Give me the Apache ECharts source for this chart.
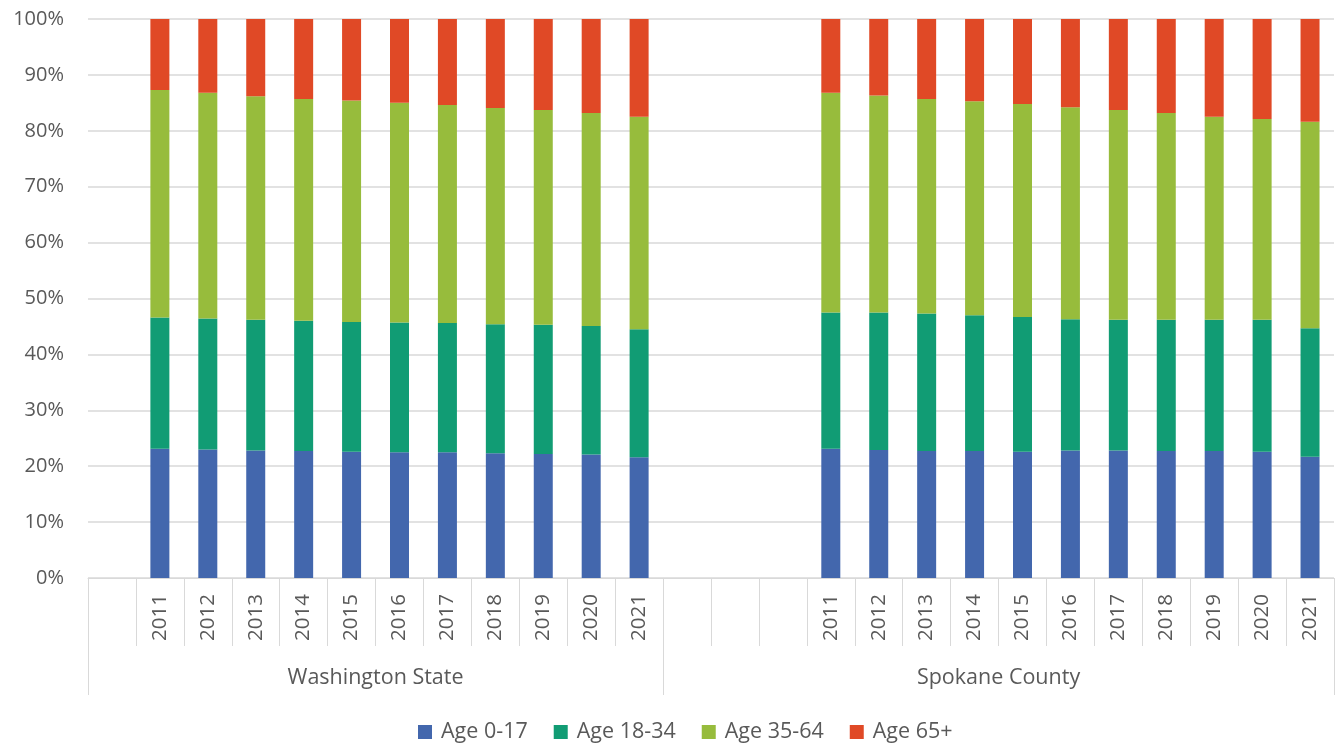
<!DOCTYPE html>
<html>
<head>
<meta charset="utf-8">
<script src="https://cdn.jsdelivr.net/npm/echarts@6/dist/echarts.min.js"></script>
<style>
html,body{margin:0;padding:0;background:#fff;}
#chart{width:1336px;height:743px;}
</style>
</head>
<body>
<div id="chart"></div>
<script>
// ---- data ----
var years = ['2011','2012','2013','2014','2015','2016','2017','2018','2019','2020','2021'];
var groups = ['Washington State', 'Spokane County'];
var seriesNames = ['Age 0-17', 'Age 18-34', 'Age 35-64', 'Age 65+'];
var yTicks = [0, 10, 20, 30, 40, 50, 60, 70, 80, 90, 100];

var waAge0_17  = [23.1, 23.0, 22.8, 22.7, 22.6, 22.5, 22.5, 22.3, 22.2, 22.1, 21.6];
var waAge18_34 = [23.5, 23.4, 23.4, 23.3, 23.2, 23.2, 23.1, 23.1, 23.1, 23.0, 22.9];
var waAge35_64 = [40.7, 40.4, 40.0, 39.7, 39.6, 39.3, 39.0, 38.7, 38.4, 38.1, 38.0];
var waAge65    = [12.7, 13.2, 13.8, 14.3, 14.6, 15.0, 15.4, 15.9, 16.3, 16.8, 17.5];

var spAge0_17  = [23.1, 22.9, 22.7, 22.7, 22.6, 22.8, 22.8, 22.7, 22.7, 22.6, 21.7];
var spAge18_34 = [24.4, 24.6, 24.6, 24.3, 24.1, 23.5, 23.4, 23.5, 23.5, 23.6, 23.0];
var spAge35_64 = [39.3, 38.8, 38.4, 38.3, 38.1, 37.9, 37.5, 37.0, 36.3, 35.9, 36.9];
var spAge65    = [13.2, 13.7, 14.3, 14.7, 15.2, 15.8, 16.3, 16.8, 17.5, 17.9, 18.4];

// blank slots before each group (as in the source worksheet)
var waLeadBlanks = 1;
var spLeadBlanks = 3;

// ---- build ----
function blanks(n){ var a=[]; for(var i=0;i<n;i++) a.push(''); return a; }
function nulls(n){ var a=[]; for(var i=0;i<n;i++) a.push('-'); return a; }

var categories = blanks(waLeadBlanks).concat(years, blanks(spLeadBlanks), years);
function combine(wa, sp){
  return nulls(waLeadBlanks).concat(wa, nulls(spLeadBlanks), sp);
}
var waSlots = waLeadBlanks + years.length;
var spSlots = spLeadBlanks + years.length;
var totalSlots = waSlots + spSlots;

var colors = ['#4367AD', '#119C74', '#97BC3C', '#E04926'];
var seriesData = [
  combine(waAge0_17, spAge0_17),
  combine(waAge18_34, spAge18_34),
  combine(waAge35_64, spAge35_64),
  combine(waAge65, spAge65)
];

var font = 'Open Sans';
var txt = '#595959';
var lineC = '#d9d9d9';

var chart = echarts.init(document.getElementById('chart'));
chart.setOption({
  animation: false,
  color: colors,
  textStyle: { fontFamily: font },
  grid: { left: 88, right: 2, top: 19, bottom: 165, containLabel: false },
  legend: {
    top: 716,
    left: 413,
    icon: 'rect',
    itemWidth: 14,
    itemHeight: 14,
    itemGap: 26,
    textStyle: { color: txt, fontSize: 21.5, fontFamily: font, padding: [0, 0, 0, 4] },
    data: seriesNames
  },
  xAxis: [
    {
      type: 'category',
      data: categories,
      position: 'bottom',
      axisLine: { show: true, lineStyle: { color: lineC, width: 1 } },
      axisTick: { show: true, interval: 0, length: 68, lineStyle: { color: lineC, width: 1 } },
      axisLabel: {
        interval: 0, rotate: 90, color: txt, fontSize: 20.5, fontFamily: font, margin: 16
      },
      splitLine: { show: false }
    },
    {
      type: 'value',
      min: 0,
      max: totalSlots,
      position: 'bottom',
      axisLine: { show: false },
      axisTick: {
        show: true, length: 117, customValues: [0, waSlots, totalSlots],
        lineStyle: { color: lineC, width: 1 }
      },
      axisLabel: {
        show: true,
        customValues: [waSlots / 2, waSlots + spSlots / 2],
        formatter: function (v) { return v < waSlots ? groups[0] : groups[1]; },
        color: txt, fontSize: 21.5, fontFamily: font, margin: 89
      },
      splitLine: { show: false }
    }
  ],
  yAxis: {
    type: 'value',
    min: yTicks[0],
    max: yTicks[yTicks.length - 1],
    interval: 10,
    axisLine: { show: false },
    axisTick: { show: false },
    axisLabel: { formatter: '{value}%', color: txt, fontSize: 20, fontFamily: font, margin: 24 },
    splitLine: { lineStyle: { color: lineC, width: 1.5 } }
  },
  series: seriesNames.map(function (name, i) {
    return {
      name: name,
      type: 'bar',
      stack: 'total',
      xAxisIndex: 0,
      barWidth: 19,
      data: seriesData[i],
      itemStyle: { color: colors[i] }
    };
  })
});
</script>
</body>
</html>
